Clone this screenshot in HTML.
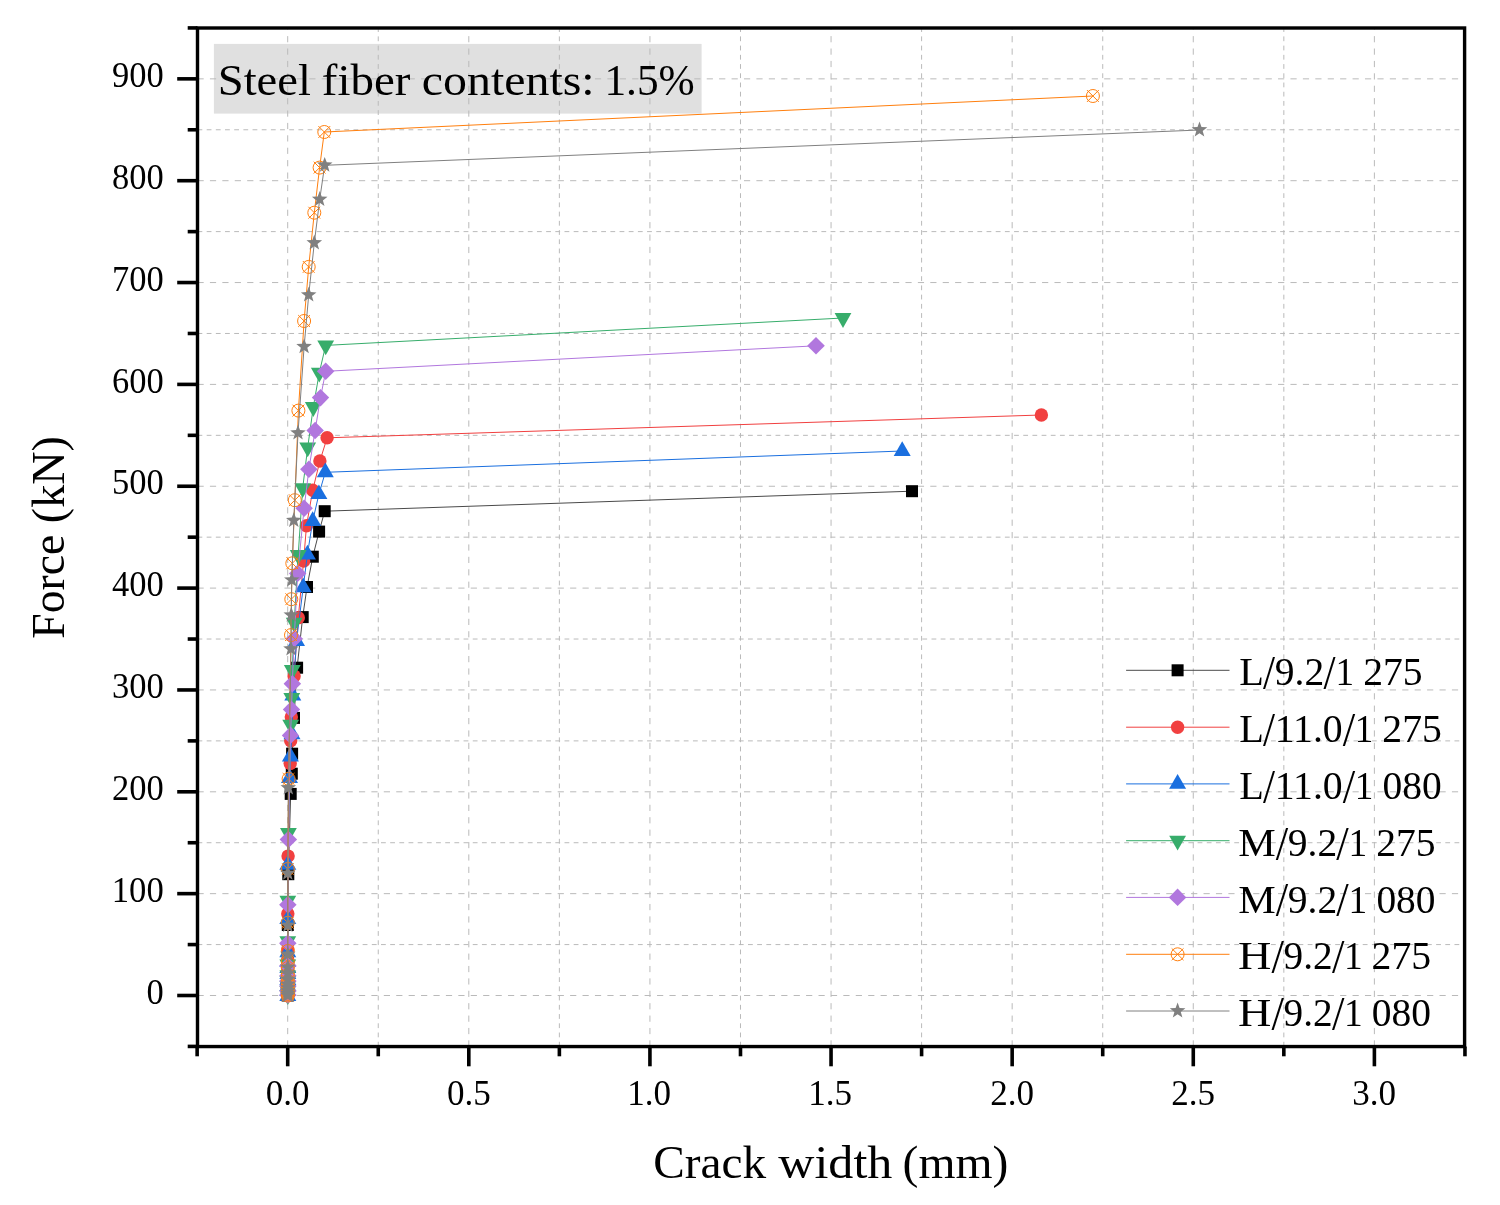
<!DOCTYPE html>
<html lang="en"><head><meta charset="utf-8"><title>Force vs crack width</title>
<style>html,body{margin:0;padding:0;background:#fff}svg{display:block}text{font-family:"Liberation Serif","DejaVu Serif",serif;fill:#000}</style></head><body>
<svg width="1500" height="1205" viewBox="0 0 1500 1205">
<rect width="1500" height="1205" fill="#fff"/>
<rect x="213.9" y="43.9" width="487.7" height="69.7" fill="#e0e0e0"/>
<line x1="197.50" y1="995.50" x2="1463.2" y2="995.50" stroke="#bababa" stroke-width="1" stroke-dasharray="6.2 6.22"/>
<line x1="197.50" y1="944.58" x2="1463.2" y2="944.58" stroke="#bababa" stroke-width="1" stroke-dasharray="4.8 4.375"/>
<line x1="197.50" y1="893.65" x2="1463.2" y2="893.65" stroke="#bababa" stroke-width="1" stroke-dasharray="6.2 6.22"/>
<line x1="197.50" y1="842.73" x2="1463.2" y2="842.73" stroke="#bababa" stroke-width="1" stroke-dasharray="4.8 4.375"/>
<line x1="197.50" y1="791.80" x2="1463.2" y2="791.80" stroke="#bababa" stroke-width="1" stroke-dasharray="6.2 6.22"/>
<line x1="197.50" y1="740.88" x2="1463.2" y2="740.88" stroke="#bababa" stroke-width="1" stroke-dasharray="4.8 4.375"/>
<line x1="197.50" y1="689.95" x2="1463.2" y2="689.95" stroke="#bababa" stroke-width="1" stroke-dasharray="6.2 6.22"/>
<line x1="197.50" y1="639.03" x2="1463.2" y2="639.03" stroke="#bababa" stroke-width="1" stroke-dasharray="4.8 4.375"/>
<line x1="197.50" y1="588.10" x2="1463.2" y2="588.10" stroke="#bababa" stroke-width="1" stroke-dasharray="6.2 6.22"/>
<line x1="197.50" y1="537.17" x2="1463.2" y2="537.17" stroke="#bababa" stroke-width="1" stroke-dasharray="4.8 4.375"/>
<line x1="197.50" y1="486.25" x2="1463.2" y2="486.25" stroke="#bababa" stroke-width="1" stroke-dasharray="6.2 6.22"/>
<line x1="197.50" y1="435.33" x2="1463.2" y2="435.33" stroke="#bababa" stroke-width="1" stroke-dasharray="4.8 4.375"/>
<line x1="197.50" y1="384.40" x2="1463.2" y2="384.40" stroke="#bababa" stroke-width="1" stroke-dasharray="6.2 6.22"/>
<line x1="197.50" y1="333.48" x2="1463.2" y2="333.48" stroke="#bababa" stroke-width="1" stroke-dasharray="4.8 4.375"/>
<line x1="197.50" y1="282.55" x2="1463.2" y2="282.55" stroke="#bababa" stroke-width="1" stroke-dasharray="6.2 6.22"/>
<line x1="197.50" y1="231.62" x2="1463.2" y2="231.62" stroke="#bababa" stroke-width="1" stroke-dasharray="4.8 4.375"/>
<line x1="197.50" y1="180.70" x2="1463.2" y2="180.70" stroke="#bababa" stroke-width="1" stroke-dasharray="6.2 6.22"/>
<line x1="197.50" y1="129.77" x2="1463.2" y2="129.77" stroke="#bababa" stroke-width="1" stroke-dasharray="4.8 4.375"/>
<line x1="197.50" y1="78.85" x2="1463.2" y2="78.85" stroke="#bababa" stroke-width="1" stroke-dasharray="6.2 6.22"/>
<line x1="287.70" y1="1046.55" x2="287.70" y2="29.3" stroke="#bababa" stroke-width="1" stroke-dasharray="6.2 6.198"/>
<line x1="378.26" y1="1046.55" x2="378.26" y2="29.3" stroke="#bababa" stroke-width="1" stroke-dasharray="4.8 4.4234"/>
<line x1="468.81" y1="1046.55" x2="468.81" y2="29.3" stroke="#bababa" stroke-width="1" stroke-dasharray="6.2 6.198"/>
<line x1="559.37" y1="1046.55" x2="559.37" y2="29.3" stroke="#bababa" stroke-width="1" stroke-dasharray="4.8 4.4234"/>
<line x1="649.93" y1="1046.55" x2="649.93" y2="29.3" stroke="#bababa" stroke-width="1" stroke-dasharray="6.2 6.198"/>
<line x1="740.49" y1="1046.55" x2="740.49" y2="29.3" stroke="#bababa" stroke-width="1" stroke-dasharray="4.8 4.4234"/>
<line x1="831.05" y1="1046.55" x2="831.05" y2="29.3" stroke="#bababa" stroke-width="1" stroke-dasharray="6.2 6.198"/>
<line x1="921.60" y1="1046.55" x2="921.60" y2="29.3" stroke="#bababa" stroke-width="1" stroke-dasharray="4.8 4.4234"/>
<line x1="1012.16" y1="1046.55" x2="1012.16" y2="29.3" stroke="#bababa" stroke-width="1" stroke-dasharray="6.2 6.198"/>
<line x1="1102.72" y1="1046.55" x2="1102.72" y2="29.3" stroke="#bababa" stroke-width="1" stroke-dasharray="4.8 4.4234"/>
<line x1="1193.28" y1="1046.55" x2="1193.28" y2="29.3" stroke="#bababa" stroke-width="1" stroke-dasharray="6.2 6.198"/>
<line x1="1283.83" y1="1046.55" x2="1283.83" y2="29.3" stroke="#bababa" stroke-width="1" stroke-dasharray="4.8 4.4234"/>
<line x1="1374.39" y1="1046.55" x2="1374.39" y2="29.3" stroke="#bababa" stroke-width="1" stroke-dasharray="6.2 6.198"/>
<g>
<polyline fill="none" stroke="#4a4a4a" stroke-width="1" stroke-linejoin="round" points="912.0,491.2 324.7,511.2 319.1,531.6 312.8,556.7 307.0,587.0 302.7,617.1 297.1,667.7 294.0,717.9 292.1,753.7 291.8,773.7 290.7,793.9 288.3,874.2 287.8,925.0 287.8,956.0 287.8,964.0 287.8,970.0 287.8,976.0 287.8,982.0 287.8,988.0 287.8,992.0 287.8,995.5"/>
<rect x="906.0" y="485.2" width="12" height="12" fill="#000000"/>
<rect x="318.7" y="505.2" width="12" height="12" fill="#000000"/>
<rect x="313.1" y="525.6" width="12" height="12" fill="#000000"/>
<rect x="306.8" y="550.7" width="12" height="12" fill="#000000"/>
<rect x="301.0" y="581.0" width="12" height="12" fill="#000000"/>
<rect x="296.7" y="611.1" width="12" height="12" fill="#000000"/>
<rect x="291.1" y="661.7" width="12" height="12" fill="#000000"/>
<rect x="288.0" y="711.9" width="12" height="12" fill="#000000"/>
<rect x="286.1" y="747.7" width="12" height="12" fill="#000000"/>
<rect x="285.8" y="767.7" width="12" height="12" fill="#000000"/>
<rect x="284.7" y="787.9" width="12" height="12" fill="#000000"/>
<rect x="282.3" y="868.2" width="12" height="12" fill="#000000"/>
<rect x="281.8" y="919.0" width="12" height="12" fill="#000000"/>
<rect x="281.8" y="950.0" width="12" height="12" fill="#000000"/>
<rect x="281.8" y="958.0" width="12" height="12" fill="#000000"/>
<rect x="281.8" y="964.0" width="12" height="12" fill="#000000"/>
<rect x="281.8" y="970.0" width="12" height="12" fill="#000000"/>
<rect x="281.8" y="976.0" width="12" height="12" fill="#000000"/>
<rect x="281.8" y="982.0" width="12" height="12" fill="#000000"/>
<rect x="281.8" y="986.0" width="12" height="12" fill="#000000"/>
<rect x="281.8" y="989.5" width="12" height="12" fill="#000000"/>
</g>
<g>
<polyline fill="none" stroke="#f14040" stroke-width="1" stroke-linejoin="round" points="1041.4,415.0 327.1,437.8 319.9,461.0 312.7,490.2 306.5,525.7 303.6,561.0 298.3,617.7 294.1,676.0 291.3,717.1 290.7,740.7 290.2,763.6 288.1,856.1 287.8,913.7 287.8,949.6 287.8,960.0 287.8,967.0 287.8,973.0 287.8,979.0 287.8,985.0 287.8,990.0 287.8,995.5"/>
<circle cx="1041.4" cy="415.0" r="6.7" fill="#f14040"/>
<circle cx="327.1" cy="437.8" r="6.7" fill="#f14040"/>
<circle cx="319.9" cy="461.0" r="6.7" fill="#f14040"/>
<circle cx="312.7" cy="490.2" r="6.7" fill="#f14040"/>
<circle cx="306.5" cy="525.7" r="6.7" fill="#f14040"/>
<circle cx="303.6" cy="561.0" r="6.7" fill="#f14040"/>
<circle cx="298.3" cy="617.7" r="6.7" fill="#f14040"/>
<circle cx="294.1" cy="676.0" r="6.7" fill="#f14040"/>
<circle cx="291.3" cy="717.1" r="6.7" fill="#f14040"/>
<circle cx="290.7" cy="740.7" r="6.7" fill="#f14040"/>
<circle cx="290.2" cy="763.6" r="6.7" fill="#f14040"/>
<circle cx="288.1" cy="856.1" r="6.7" fill="#f14040"/>
<circle cx="287.8" cy="913.7" r="6.7" fill="#f14040"/>
<circle cx="287.8" cy="949.6" r="6.7" fill="#f14040"/>
<circle cx="287.8" cy="960.0" r="6.7" fill="#f14040"/>
<circle cx="287.8" cy="967.0" r="6.7" fill="#f14040"/>
<circle cx="287.8" cy="973.0" r="6.7" fill="#f14040"/>
<circle cx="287.8" cy="979.0" r="6.7" fill="#f14040"/>
<circle cx="287.8" cy="985.0" r="6.7" fill="#f14040"/>
<circle cx="287.8" cy="990.0" r="6.7" fill="#f14040"/>
<circle cx="287.8" cy="995.5" r="6.7" fill="#f14040"/>
</g>
<g>
<polyline fill="none" stroke="#1a6fdf" stroke-width="1" stroke-linejoin="round" points="902.2,451.0 325.3,472.3 318.9,494.2 312.7,521.1 307.4,554.6 303.2,587.3 296.5,641.0 292.8,695.7 292.0,734.3 290.4,756.5 289.5,778.0 287.8,864.8 287.8,919.2 287.8,952.3 287.8,962.0 287.8,968.0 287.8,974.0 287.8,980.0 287.8,986.0 287.8,991.0 287.8,996.0"/>
<path d="M902.2 441.2 L910.7 455.9 L893.7 455.9Z" fill="#1a6fdf"/>
<path d="M325.3 462.5 L333.8 477.2 L316.8 477.2Z" fill="#1a6fdf"/>
<path d="M318.9 484.4 L327.4 499.1 L310.4 499.1Z" fill="#1a6fdf"/>
<path d="M312.7 511.3 L321.2 526.0 L304.2 526.0Z" fill="#1a6fdf"/>
<path d="M307.4 544.8 L315.9 559.5 L298.9 559.5Z" fill="#1a6fdf"/>
<path d="M303.2 577.5 L311.7 592.2 L294.7 592.2Z" fill="#1a6fdf"/>
<path d="M296.5 631.2 L305.0 645.9 L288.0 645.9Z" fill="#1a6fdf"/>
<path d="M292.8 685.9 L301.3 700.6 L284.3 700.6Z" fill="#1a6fdf"/>
<path d="M292.0 724.5 L300.5 739.2 L283.5 739.2Z" fill="#1a6fdf"/>
<path d="M290.4 746.7 L298.9 761.4 L281.9 761.4Z" fill="#1a6fdf"/>
<path d="M289.5 768.2 L298.0 782.9 L281.0 782.9Z" fill="#1a6fdf"/>
<path d="M287.8 855.0 L296.3 869.7 L279.3 869.7Z" fill="#1a6fdf"/>
<path d="M287.8 909.4 L296.3 924.1 L279.3 924.1Z" fill="#1a6fdf"/>
<path d="M287.8 942.5 L296.3 957.2 L279.3 957.2Z" fill="#1a6fdf"/>
<path d="M287.8 952.2 L296.3 966.9 L279.3 966.9Z" fill="#1a6fdf"/>
<path d="M287.8 958.2 L296.3 972.9 L279.3 972.9Z" fill="#1a6fdf"/>
<path d="M287.8 964.2 L296.3 978.9 L279.3 978.9Z" fill="#1a6fdf"/>
<path d="M287.8 970.2 L296.3 984.9 L279.3 984.9Z" fill="#1a6fdf"/>
<path d="M287.8 976.2 L296.3 990.9 L279.3 990.9Z" fill="#1a6fdf"/>
<path d="M287.8 981.2 L296.3 995.9 L279.3 995.9Z" fill="#1a6fdf"/>
<path d="M287.8 986.2 L296.3 1000.9 L279.3 1000.9Z" fill="#1a6fdf"/>
</g>
<g>
<polyline fill="none" stroke="#37ad6b" stroke-width="1" stroke-linejoin="round" points="843.0,318.0 325.7,345.4 319.3,372.7 313.3,407.0 307.7,447.4 302.7,488.2 298.2,555.0 294.2,622.8 292.3,670.1 291.8,698.0 290.7,724.7 288.4,833.1 287.8,900.7 287.8,941.2 287.8,964.5 287.8,975.5 287.8,981.0 287.8,986.0 287.8,991.0 287.8,995.2"/>
<path d="M843.0 327.9 L851.4 313.0 L834.6 313.0Z" fill="#37ad6b"/>
<path d="M325.7 355.3 L334.1 340.4 L317.3 340.4Z" fill="#37ad6b"/>
<path d="M319.3 382.6 L327.7 367.7 L310.9 367.7Z" fill="#37ad6b"/>
<path d="M313.3 416.9 L321.7 402.0 L304.9 402.0Z" fill="#37ad6b"/>
<path d="M307.7 457.3 L316.1 442.4 L299.3 442.4Z" fill="#37ad6b"/>
<path d="M302.7 498.1 L311.1 483.2 L294.3 483.2Z" fill="#37ad6b"/>
<path d="M298.2 564.9 L306.6 550.0 L289.8 550.0Z" fill="#37ad6b"/>
<path d="M294.2 632.7 L302.6 617.8 L285.8 617.8Z" fill="#37ad6b"/>
<path d="M292.3 680.0 L300.7 665.1 L283.9 665.1Z" fill="#37ad6b"/>
<path d="M291.8 707.9 L300.2 693.0 L283.4 693.0Z" fill="#37ad6b"/>
<path d="M290.7 734.6 L299.1 719.7 L282.3 719.7Z" fill="#37ad6b"/>
<path d="M288.4 843.0 L296.8 828.1 L280.0 828.1Z" fill="#37ad6b"/>
<path d="M287.8 910.6 L296.2 895.7 L279.4 895.7Z" fill="#37ad6b"/>
<path d="M287.8 951.1 L296.2 936.2 L279.4 936.2Z" fill="#37ad6b"/>
<path d="M287.8 974.4 L296.2 959.5 L279.4 959.5Z" fill="#37ad6b"/>
<path d="M287.8 985.4 L296.2 970.5 L279.4 970.5Z" fill="#37ad6b"/>
<path d="M287.8 990.9 L296.2 976.0 L279.4 976.0Z" fill="#37ad6b"/>
<path d="M287.8 995.9 L296.2 981.0 L279.4 981.0Z" fill="#37ad6b"/>
<path d="M287.8 1000.9 L296.2 986.0 L279.4 986.0Z" fill="#37ad6b"/>
<path d="M287.8 1005.1 L296.2 990.2 L279.4 990.2Z" fill="#37ad6b"/>
</g>
<g>
<polyline fill="none" stroke="#b177de" stroke-width="1" stroke-linejoin="round" points="816.0,345.8 325.7,371.3 320.5,397.6 315.1,430.5 308.9,469.3 304.1,508.2 297.7,573.4 294.2,638.7 292.3,683.7 291.5,709.5 290.5,735.4 288.3,839.5 287.8,904.7 287.8,943.2 287.8,965.8 287.8,975.8 287.8,981.0 287.8,986.0 287.8,991.0 287.8,995.0"/>
<path d="M816.0 337.1 L824.8 345.8 L816.0 354.6 L807.2 345.8Z" fill="#b177de"/>
<path d="M325.7 362.6 L334.4 371.3 L325.7 380.1 L316.9 371.3Z" fill="#b177de"/>
<path d="M320.5 388.9 L329.2 397.6 L320.5 406.4 L311.8 397.6Z" fill="#b177de"/>
<path d="M315.1 421.8 L323.9 430.5 L315.1 439.2 L306.4 430.5Z" fill="#b177de"/>
<path d="M308.9 460.6 L317.6 469.3 L308.9 478.1 L300.1 469.3Z" fill="#b177de"/>
<path d="M304.1 499.4 L312.9 508.2 L304.1 517.0 L295.4 508.2Z" fill="#b177de"/>
<path d="M297.7 564.6 L306.4 573.4 L297.7 582.1 L288.9 573.4Z" fill="#b177de"/>
<path d="M294.2 630.0 L302.9 638.7 L294.2 647.5 L285.4 638.7Z" fill="#b177de"/>
<path d="M292.3 675.0 L301.1 683.7 L292.3 692.5 L283.6 683.7Z" fill="#b177de"/>
<path d="M291.5 700.8 L300.2 709.5 L291.5 718.2 L282.8 709.5Z" fill="#b177de"/>
<path d="M290.5 726.6 L299.2 735.4 L290.5 744.1 L281.8 735.4Z" fill="#b177de"/>
<path d="M288.3 830.8 L297.1 839.5 L288.3 848.2 L279.6 839.5Z" fill="#b177de"/>
<path d="M287.8 896.0 L296.6 904.7 L287.8 913.5 L279.1 904.7Z" fill="#b177de"/>
<path d="M287.8 934.5 L296.6 943.2 L287.8 952.0 L279.1 943.2Z" fill="#b177de"/>
<path d="M287.8 957.0 L296.6 965.8 L287.8 974.5 L279.1 965.8Z" fill="#b177de"/>
<path d="M287.8 967.0 L296.6 975.8 L287.8 984.5 L279.1 975.8Z" fill="#b177de"/>
<path d="M287.8 972.2 L296.6 981.0 L287.8 989.8 L279.1 981.0Z" fill="#b177de"/>
<path d="M287.8 977.2 L296.6 986.0 L287.8 994.8 L279.1 986.0Z" fill="#b177de"/>
<path d="M287.8 982.2 L296.6 991.0 L287.8 999.8 L279.1 991.0Z" fill="#b177de"/>
<path d="M287.8 986.2 L296.6 995.0 L287.8 1003.8 L279.1 995.0Z" fill="#b177de"/>
</g>
<g>
<polyline fill="none" stroke="#ff7f0e" stroke-width="1" stroke-linejoin="round" points="1092.9,96.0 324.3,132.0 319.6,167.6 314.3,212.7 308.7,266.9 304.1,321.0 298.4,410.6 294.8,500.2 292.3,563.3 291.3,599.2 291.0,635.1 288.6,778.9 287.8,869.0 287.8,922.8 287.8,951.0 287.8,962.0 287.8,968.0 287.8,975.0 287.8,981.0 287.8,985.0 287.8,988.0 287.8,990.5 287.8,992.5 287.8,994.0 287.8,995.5"/>
<g stroke="#ff7f0e" stroke-width="1" fill="none"><circle cx="1092.9" cy="96.0" r="6.5"/><path d="M1087.0 90.1 L1098.8 101.9 M1087.0 101.9 L1098.8 90.1"/></g>
<g stroke="#ff7f0e" stroke-width="1" fill="none"><circle cx="324.3" cy="132.0" r="6.5"/><path d="M318.4 126.1 L330.2 137.9 M318.4 137.9 L330.2 126.1"/></g>
<g stroke="#ff7f0e" stroke-width="1" fill="none"><circle cx="319.6" cy="167.6" r="6.5"/><path d="M313.7 161.7 L325.5 173.5 M313.7 173.5 L325.5 161.7"/></g>
<g stroke="#ff7f0e" stroke-width="1" fill="none"><circle cx="314.3" cy="212.7" r="6.5"/><path d="M308.4 206.8 L320.2 218.6 M308.4 218.6 L320.2 206.8"/></g>
<g stroke="#ff7f0e" stroke-width="1" fill="none"><circle cx="308.7" cy="266.9" r="6.5"/><path d="M302.8 261.0 L314.6 272.8 M302.8 272.8 L314.6 261.0"/></g>
<g stroke="#ff7f0e" stroke-width="1" fill="none"><circle cx="304.1" cy="321.0" r="6.5"/><path d="M298.2 315.1 L310.0 326.9 M298.2 326.9 L310.0 315.1"/></g>
<g stroke="#ff7f0e" stroke-width="1" fill="none"><circle cx="298.4" cy="410.6" r="6.5"/><path d="M292.5 404.7 L304.3 416.5 M292.5 416.5 L304.3 404.7"/></g>
<g stroke="#ff7f0e" stroke-width="1" fill="none"><circle cx="294.8" cy="500.2" r="6.5"/><path d="M288.9 494.3 L300.7 506.1 M288.9 506.1 L300.7 494.3"/></g>
<g stroke="#ff7f0e" stroke-width="1" fill="none"><circle cx="292.3" cy="563.3" r="6.5"/><path d="M286.4 557.4 L298.2 569.2 M286.4 569.2 L298.2 557.4"/></g>
<g stroke="#ff7f0e" stroke-width="1" fill="none"><circle cx="291.3" cy="599.2" r="6.5"/><path d="M285.4 593.3 L297.2 605.1 M285.4 605.1 L297.2 593.3"/></g>
<g stroke="#ff7f0e" stroke-width="1" fill="none"><circle cx="291.0" cy="635.1" r="6.5"/><path d="M285.1 629.2 L296.9 641.0 M285.1 641.0 L296.9 629.2"/></g>
<g stroke="#ff7f0e" stroke-width="1" fill="none"><circle cx="288.6" cy="778.9" r="6.5"/><path d="M282.7 773.0 L294.5 784.8 M282.7 784.8 L294.5 773.0"/></g>
<g stroke="#ff7f0e" stroke-width="1" fill="none"><circle cx="287.8" cy="869.0" r="6.5"/><path d="M281.9 863.1 L293.7 874.9 M281.9 874.9 L293.7 863.1"/></g>
<g stroke="#ff7f0e" stroke-width="1" fill="none"><circle cx="287.8" cy="922.8" r="6.5"/><path d="M281.9 916.9 L293.7 928.7 M281.9 928.7 L293.7 916.9"/></g>
<g stroke="#ff7f0e" stroke-width="1" fill="none"><circle cx="287.8" cy="951.0" r="6.5"/><path d="M281.9 945.1 L293.7 956.9 M281.9 956.9 L293.7 945.1"/></g>
<g stroke="#ff7f0e" stroke-width="1" fill="none"><circle cx="287.8" cy="962.0" r="6.5"/><path d="M281.9 956.1 L293.7 967.9 M281.9 967.9 L293.7 956.1"/></g>
<g stroke="#ff7f0e" stroke-width="1" fill="none"><circle cx="287.8" cy="968.0" r="6.5"/><path d="M281.9 962.1 L293.7 973.9 M281.9 973.9 L293.7 962.1"/></g>
<g stroke="#ff7f0e" stroke-width="1" fill="none"><circle cx="287.8" cy="975.0" r="6.5"/><path d="M281.9 969.1 L293.7 980.9 M281.9 980.9 L293.7 969.1"/></g>
<g stroke="#ff7f0e" stroke-width="1" fill="none"><circle cx="287.8" cy="981.0" r="6.5"/><path d="M281.9 975.1 L293.7 986.9 M281.9 986.9 L293.7 975.1"/></g>
<g stroke="#ff7f0e" stroke-width="1" fill="none"><circle cx="287.8" cy="985.0" r="6.5"/><path d="M281.9 979.1 L293.7 990.9 M281.9 990.9 L293.7 979.1"/></g>
<g stroke="#ff7f0e" stroke-width="1" fill="none"><circle cx="287.8" cy="988.0" r="6.5"/><path d="M281.9 982.1 L293.7 993.9 M281.9 993.9 L293.7 982.1"/></g>
<g stroke="#ff7f0e" stroke-width="1" fill="none"><circle cx="287.8" cy="990.5" r="6.5"/><path d="M281.9 984.6 L293.7 996.4 M281.9 996.4 L293.7 984.6"/></g>
<g stroke="#ff7f0e" stroke-width="1" fill="none"><circle cx="287.8" cy="992.5" r="6.5"/><path d="M281.9 986.6 L293.7 998.4 M281.9 998.4 L293.7 986.6"/></g>
<g stroke="#ff7f0e" stroke-width="1" fill="none"><circle cx="287.8" cy="994.0" r="6.5"/><path d="M281.9 988.1 L293.7 999.9 M281.9 999.9 L293.7 988.1"/></g>
<g stroke="#ff7f0e" stroke-width="1" fill="none"><circle cx="287.8" cy="995.5" r="6.5"/><path d="M281.9 989.6 L293.7 1001.4 M281.9 1001.4 L293.7 989.6"/></g>
</g>
<g>
<polyline fill="none" stroke="#808080" stroke-width="1" stroke-linejoin="round" points="1199.5,130.0 324.7,165.3 319.7,199.5 314.3,243.0 308.7,295.1 304.1,346.8 298.0,433.1 293.8,520.6 291.8,580.2 291.3,615.3 291.0,649.1 288.3,788.0 287.8,873.4 287.8,925.6 287.8,954.4 287.8,967.5 287.8,973.5 287.8,979.5 287.8,984.5 287.8,988.0 287.8,991.0 287.8,993.5 287.8,995.5"/>
<path d="M1199.5 121.6 L1201.5 127.0 L1207.3 127.3 L1202.7 130.9 L1204.3 136.4 L1199.5 133.2 L1194.7 136.4 L1196.3 130.9 L1191.7 127.3 L1197.5 127.0Z" fill="#808080"/>
<path d="M324.7 156.9 L326.7 162.3 L332.5 162.6 L327.9 166.2 L329.5 171.7 L324.7 168.5 L319.9 171.7 L321.5 166.2 L316.9 162.6 L322.7 162.3Z" fill="#808080"/>
<path d="M319.7 191.1 L321.7 196.5 L327.5 196.8 L322.9 200.4 L324.5 205.9 L319.7 202.7 L314.9 205.9 L316.5 200.4 L311.9 196.8 L317.7 196.5Z" fill="#808080"/>
<path d="M314.3 234.6 L316.3 240.0 L322.1 240.3 L317.5 243.9 L319.1 249.4 L314.3 246.2 L309.5 249.4 L311.1 243.9 L306.5 240.3 L312.3 240.0Z" fill="#808080"/>
<path d="M308.7 286.7 L310.7 292.1 L316.5 292.4 L311.9 296.0 L313.5 301.5 L308.7 298.3 L303.9 301.5 L305.5 296.0 L300.9 292.4 L306.7 292.1Z" fill="#808080"/>
<path d="M304.1 338.4 L306.1 343.8 L311.9 344.1 L307.3 347.7 L308.9 353.2 L304.1 350.0 L299.3 353.2 L300.9 347.7 L296.3 344.1 L302.1 343.8Z" fill="#808080"/>
<path d="M298.0 424.7 L300.0 430.1 L305.8 430.4 L301.2 434.0 L302.8 439.5 L298.0 436.3 L293.2 439.5 L294.8 434.0 L290.2 430.4 L296.0 430.1Z" fill="#808080"/>
<path d="M293.8 512.2 L295.8 517.6 L301.6 517.9 L297.0 521.5 L298.6 527.0 L293.8 523.8 L289.0 527.0 L290.6 521.5 L286.0 517.9 L291.8 517.6Z" fill="#808080"/>
<path d="M291.8 571.8 L293.8 577.2 L299.6 577.5 L295.0 581.1 L296.6 586.6 L291.8 583.4 L287.0 586.6 L288.6 581.1 L284.0 577.5 L289.8 577.2Z" fill="#808080"/>
<path d="M291.3 606.9 L293.3 612.3 L299.1 612.6 L294.5 616.2 L296.1 621.7 L291.3 618.5 L286.5 621.7 L288.1 616.2 L283.5 612.6 L289.3 612.3Z" fill="#808080"/>
<path d="M291.0 640.7 L293.0 646.1 L298.8 646.4 L294.2 650.0 L295.8 655.5 L291.0 652.3 L286.2 655.5 L287.8 650.0 L283.2 646.4 L289.0 646.1Z" fill="#808080"/>
<path d="M288.3 779.6 L290.3 785.0 L296.1 785.3 L291.5 788.9 L293.1 794.4 L288.3 791.2 L283.5 794.4 L285.1 788.9 L280.5 785.3 L286.3 785.0Z" fill="#808080"/>
<path d="M287.8 865.0 L289.8 870.4 L295.6 870.7 L291.0 874.3 L292.6 879.8 L287.8 876.6 L283.0 879.8 L284.6 874.3 L280.0 870.7 L285.8 870.4Z" fill="#808080"/>
<path d="M287.8 917.2 L289.8 922.6 L295.6 922.9 L291.0 926.5 L292.6 932.0 L287.8 928.8 L283.0 932.0 L284.6 926.5 L280.0 922.9 L285.8 922.6Z" fill="#808080"/>
<path d="M287.8 946.0 L289.8 951.4 L295.6 951.7 L291.0 955.3 L292.6 960.8 L287.8 957.6 L283.0 960.8 L284.6 955.3 L280.0 951.7 L285.8 951.4Z" fill="#808080"/>
<path d="M287.8 959.1 L289.8 964.5 L295.6 964.8 L291.0 968.4 L292.6 973.9 L287.8 970.7 L283.0 973.9 L284.6 968.4 L280.0 964.8 L285.8 964.5Z" fill="#808080"/>
<path d="M287.8 965.1 L289.8 970.5 L295.6 970.8 L291.0 974.4 L292.6 979.9 L287.8 976.7 L283.0 979.9 L284.6 974.4 L280.0 970.8 L285.8 970.5Z" fill="#808080"/>
<path d="M287.8 971.1 L289.8 976.5 L295.6 976.8 L291.0 980.4 L292.6 985.9 L287.8 982.7 L283.0 985.9 L284.6 980.4 L280.0 976.8 L285.8 976.5Z" fill="#808080"/>
<path d="M287.8 976.1 L289.8 981.5 L295.6 981.8 L291.0 985.4 L292.6 990.9 L287.8 987.7 L283.0 990.9 L284.6 985.4 L280.0 981.8 L285.8 981.5Z" fill="#808080"/>
<path d="M287.8 979.6 L289.8 985.0 L295.6 985.3 L291.0 988.9 L292.6 994.4 L287.8 991.2 L283.0 994.4 L284.6 988.9 L280.0 985.3 L285.8 985.0Z" fill="#808080"/>
<path d="M287.8 982.6 L289.8 988.0 L295.6 988.3 L291.0 991.9 L292.6 997.4 L287.8 994.2 L283.0 997.4 L284.6 991.9 L280.0 988.3 L285.8 988.0Z" fill="#808080"/>
<path d="M287.8 985.1 L289.8 990.5 L295.6 990.8 L291.0 994.4 L292.6 999.9 L287.8 996.7 L283.0 999.9 L284.6 994.4 L280.0 990.8 L285.8 990.5Z" fill="#808080"/>
<path d="M287.8 987.1 L289.8 992.5 L295.6 992.8 L291.0 996.4 L292.6 1001.9 L287.8 998.7 L283.0 1001.9 L284.6 996.4 L280.0 992.8 L285.8 992.5Z" fill="#808080"/>
</g>
<line x1="1126.1" y1="670.3" x2="1229.5" y2="670.3" stroke="#4a4a4a" stroke-width="1"/>
<rect x="1171.6" y="664.3" width="12" height="12" fill="#000000"/>
<text y="685.20" font-size="39.60"><tspan x="1239.19" textLength="24.67" lengthAdjust="spacingAndGlyphs">L</tspan><tspan x="1263.00" textLength="12.03" lengthAdjust="spacingAndGlyphs" dy="3.81" font-size="48.87">/</tspan><tspan x="1274.82" textLength="49.36" lengthAdjust="spacingAndGlyphs" dy="-3.81">9.2</tspan><tspan x="1323.60" textLength="12.03" lengthAdjust="spacingAndGlyphs" dy="3.81" font-size="48.87">/</tspan><tspan x="1335.56" textLength="18.57" lengthAdjust="spacingAndGlyphs" dy="-3.81">1</tspan> <tspan x="1363.22" textLength="59.36" lengthAdjust="spacingAndGlyphs">275</tspan></text>
<line x1="1126.1" y1="727.2" x2="1229.5" y2="727.2" stroke="#f14040" stroke-width="1"/>
<circle cx="1177.6" cy="727.2" r="6.7" fill="#f14040"/>
<text y="741.90" font-size="39.60"><tspan x="1239.19" textLength="24.67" lengthAdjust="spacingAndGlyphs">L</tspan><tspan x="1263.00" textLength="12.03" lengthAdjust="spacingAndGlyphs" dy="3.81" font-size="48.87">/</tspan><tspan x="1274.73" textLength="67.98" lengthAdjust="spacingAndGlyphs" dy="-3.81">11.0</tspan><tspan x="1342.70" textLength="12.43" lengthAdjust="spacingAndGlyphs" dy="3.81" font-size="48.87">/</tspan><tspan x="1354.76" textLength="18.57" lengthAdjust="spacingAndGlyphs" dy="-3.81">1</tspan> <tspan x="1382.32" textLength="59.47" lengthAdjust="spacingAndGlyphs">275</tspan></text>
<line x1="1126.1" y1="783.9" x2="1229.5" y2="783.9" stroke="#1a6fdf" stroke-width="1"/>
<path d="M1177.6 774.1 L1186.1 788.8 L1169.1 788.8Z" fill="#1a6fdf"/>
<text y="799.10" font-size="39.60"><tspan x="1239.19" textLength="24.67" lengthAdjust="spacingAndGlyphs">L</tspan><tspan x="1263.00" textLength="12.03" lengthAdjust="spacingAndGlyphs" dy="3.81" font-size="48.87">/</tspan><tspan x="1274.73" textLength="67.98" lengthAdjust="spacingAndGlyphs" dy="-3.81">11.0</tspan><tspan x="1342.70" textLength="12.43" lengthAdjust="spacingAndGlyphs" dy="3.81" font-size="48.87">/</tspan><tspan x="1354.76" textLength="18.57" lengthAdjust="spacingAndGlyphs" dy="-3.81">1</tspan> <tspan x="1382.52" textLength="59.26" lengthAdjust="spacingAndGlyphs">080</tspan></text>
<line x1="1126.1" y1="840.7" x2="1229.5" y2="840.7" stroke="#37ad6b" stroke-width="1"/>
<path d="M1177.6 850.6 L1186.0 835.7 L1169.2 835.7Z" fill="#37ad6b"/>
<text y="855.70" font-size="39.60"><tspan x="1238.23" textLength="37.50" lengthAdjust="spacingAndGlyphs">M</tspan><tspan x="1275.70" textLength="12.43" lengthAdjust="spacingAndGlyphs" dy="3.81" font-size="48.87">/</tspan><tspan x="1287.82" textLength="49.36" lengthAdjust="spacingAndGlyphs" dy="-3.81">9.2</tspan><tspan x="1336.30" textLength="12.43" lengthAdjust="spacingAndGlyphs" dy="3.81" font-size="48.87">/</tspan><tspan x="1348.53" textLength="18.71" lengthAdjust="spacingAndGlyphs" dy="-3.81">1</tspan> <tspan x="1376.22" textLength="59.36" lengthAdjust="spacingAndGlyphs">275</tspan></text>
<line x1="1126.1" y1="897.4" x2="1229.5" y2="897.4" stroke="#b177de" stroke-width="1"/>
<path d="M1177.6 888.6 L1186.3 897.4 L1177.6 906.1 L1168.8 897.4Z" fill="#b177de"/>
<text y="912.50" font-size="39.60"><tspan x="1238.23" textLength="37.50" lengthAdjust="spacingAndGlyphs">M</tspan><tspan x="1275.70" textLength="12.43" lengthAdjust="spacingAndGlyphs" dy="3.81" font-size="48.87">/</tspan><tspan x="1287.82" textLength="49.36" lengthAdjust="spacingAndGlyphs" dy="-3.81">9.2</tspan><tspan x="1336.30" textLength="12.43" lengthAdjust="spacingAndGlyphs" dy="3.81" font-size="48.87">/</tspan><tspan x="1348.53" textLength="18.71" lengthAdjust="spacingAndGlyphs" dy="-3.81">1</tspan> <tspan x="1376.42" textLength="59.15" lengthAdjust="spacingAndGlyphs">080</tspan></text>
<line x1="1126.1" y1="954.3" x2="1229.5" y2="954.3" stroke="#ff7f0e" stroke-width="1"/>
<g stroke="#ff7f0e" stroke-width="1" fill="none"><circle cx="1177.6" cy="954.3" r="6.5"/><path d="M1171.7 948.4 L1183.5 960.2 M1171.7 960.2 L1183.5 948.4"/></g>
<text y="969.40" font-size="39.60"><tspan x="1238.12" textLength="33.34" lengthAdjust="spacingAndGlyphs">H</tspan><tspan x="1271.40" textLength="12.43" lengthAdjust="spacingAndGlyphs" dy="3.81" font-size="48.87">/</tspan><tspan x="1283.62" textLength="49.03" lengthAdjust="spacingAndGlyphs" dy="-3.81">9.2</tspan><tspan x="1332.00" textLength="12.43" lengthAdjust="spacingAndGlyphs" dy="3.81" font-size="48.87">/</tspan><tspan x="1343.93" textLength="18.71" lengthAdjust="spacingAndGlyphs" dy="-3.81">1</tspan> <tspan x="1371.62" textLength="59.47" lengthAdjust="spacingAndGlyphs">275</tspan></text>
<line x1="1126.1" y1="1011.0" x2="1229.5" y2="1011.0" stroke="#808080" stroke-width="1"/>
<path d="M1177.6 1002.6 L1179.6 1008.0 L1185.4 1008.3 L1180.8 1011.9 L1182.4 1017.4 L1177.6 1014.2 L1172.8 1017.4 L1174.4 1011.9 L1169.8 1008.3 L1175.6 1008.0Z" fill="#808080"/>
<text y="1026.20" font-size="39.60"><tspan x="1238.12" textLength="33.34" lengthAdjust="spacingAndGlyphs">H</tspan><tspan x="1271.40" textLength="12.43" lengthAdjust="spacingAndGlyphs" dy="3.81" font-size="48.87">/</tspan><tspan x="1283.62" textLength="49.03" lengthAdjust="spacingAndGlyphs" dy="-3.81">9.2</tspan><tspan x="1332.00" textLength="12.43" lengthAdjust="spacingAndGlyphs" dy="3.81" font-size="48.87">/</tspan><tspan x="1343.93" textLength="18.71" lengthAdjust="spacingAndGlyphs" dy="-3.81">1</tspan> <tspan x="1371.82" textLength="59.26" lengthAdjust="spacingAndGlyphs">080</tspan></text>
<g stroke="#000" stroke-width="3.4" fill="none" stroke-linecap="butt">
<rect x="197.50" y="28.00" width="1267.10" height="1018.55"/>
</g><g stroke="#000" stroke-width="3.6" fill="none">
<line x1="187.7" y1="1046.42" x2="197.50" y2="1046.42"/>
<line x1="177.2" y1="995.50" x2="197.50" y2="995.50"/>
<line x1="187.7" y1="944.58" x2="197.50" y2="944.58"/>
<line x1="177.2" y1="893.65" x2="197.50" y2="893.65"/>
<line x1="187.7" y1="842.73" x2="197.50" y2="842.73"/>
<line x1="177.2" y1="791.80" x2="197.50" y2="791.80"/>
<line x1="187.7" y1="740.88" x2="197.50" y2="740.88"/>
<line x1="177.2" y1="689.95" x2="197.50" y2="689.95"/>
<line x1="187.7" y1="639.03" x2="197.50" y2="639.03"/>
<line x1="177.2" y1="588.10" x2="197.50" y2="588.10"/>
<line x1="187.7" y1="537.17" x2="197.50" y2="537.17"/>
<line x1="177.2" y1="486.25" x2="197.50" y2="486.25"/>
<line x1="187.7" y1="435.33" x2="197.50" y2="435.33"/>
<line x1="177.2" y1="384.40" x2="197.50" y2="384.40"/>
<line x1="187.7" y1="333.48" x2="197.50" y2="333.48"/>
<line x1="177.2" y1="282.55" x2="197.50" y2="282.55"/>
<line x1="187.7" y1="231.62" x2="197.50" y2="231.62"/>
<line x1="177.2" y1="180.70" x2="197.50" y2="180.70"/>
<line x1="187.7" y1="129.77" x2="197.50" y2="129.77"/>
<line x1="177.2" y1="78.85" x2="197.50" y2="78.85"/>
<line x1="187.7" y1="27.93" x2="197.50" y2="27.93"/>
<line x1="197.14" y1="1046.55" x2="197.14" y2="1056.3"/>
<line x1="287.70" y1="1046.55" x2="287.70" y2="1066.3"/>
<line x1="378.26" y1="1046.55" x2="378.26" y2="1056.3"/>
<line x1="468.81" y1="1046.55" x2="468.81" y2="1066.3"/>
<line x1="559.37" y1="1046.55" x2="559.37" y2="1056.3"/>
<line x1="649.93" y1="1046.55" x2="649.93" y2="1066.3"/>
<line x1="740.49" y1="1046.55" x2="740.49" y2="1056.3"/>
<line x1="831.05" y1="1046.55" x2="831.05" y2="1066.3"/>
<line x1="921.60" y1="1046.55" x2="921.60" y2="1056.3"/>
<line x1="1012.16" y1="1046.55" x2="1012.16" y2="1066.3"/>
<line x1="1102.72" y1="1046.55" x2="1102.72" y2="1056.3"/>
<line x1="1193.28" y1="1046.55" x2="1193.28" y2="1066.3"/>
<line x1="1283.83" y1="1046.55" x2="1283.83" y2="1056.3"/>
<line x1="1374.39" y1="1046.55" x2="1374.39" y2="1066.3"/>
<line x1="1464.95" y1="1046.55" x2="1464.95" y2="1056.3"/>
</g>
<text transform="translate(146.55,1003.70) scale(0.9680,1)" font-size="35.6">0</text>
<text transform="translate(111.78,901.85) scale(0.9739,1)" font-size="35.6">100</text>
<text transform="translate(112.09,800.00) scale(0.9680,1)" font-size="35.6">200</text>
<text transform="translate(112.09,698.15) scale(0.9680,1)" font-size="35.6">300</text>
<text transform="translate(112.09,596.30) scale(0.9680,1)" font-size="35.6">400</text>
<text transform="translate(112.09,494.45) scale(0.9680,1)" font-size="35.6">500</text>
<text transform="translate(112.09,392.60) scale(0.9680,1)" font-size="35.6">600</text>
<text transform="translate(112.09,290.75) scale(0.9680,1)" font-size="35.6">700</text>
<text transform="translate(112.09,188.90) scale(0.9680,1)" font-size="35.6">800</text>
<text transform="translate(112.09,87.05) scale(0.9680,1)" font-size="35.6">900</text>
<text transform="translate(265.78,1104.6) scale(0.9850,1)" font-size="35.6">0.0</text>
<text transform="translate(446.90,1104.6) scale(0.9850,1)" font-size="35.6">0.5</text>
<text transform="translate(627.14,1104.6) scale(0.9850,1)" font-size="35.6">1.0</text>
<text transform="translate(808.25,1104.6) scale(0.9850,1)" font-size="35.6">1.5</text>
<text transform="translate(990.16,1104.6) scale(0.9850,1)" font-size="35.6">2.0</text>
<text transform="translate(1171.27,1104.6) scale(0.9850,1)" font-size="35.6">2.5</text>
<text transform="translate(1352.30,1104.6) scale(0.9850,1)" font-size="35.6">3.0</text>
<text y="1178.00" font-size="45.50"><tspan x="653.21" textLength="112.92" lengthAdjust="spacingAndGlyphs">Crack</tspan> <tspan x="778.30" textLength="114.05" lengthAdjust="spacingAndGlyphs">width</tspan> <tspan x="902.56" textLength="105.73" lengthAdjust="spacingAndGlyphs">(mm)</tspan></text>
<text y="0.00" font-size="45.50" transform="translate(64.2,637.4) rotate(-90)"><tspan x="-1.37" textLength="104.16" lengthAdjust="spacingAndGlyphs">Force</tspan> <tspan x="114.22" textLength="87.07" lengthAdjust="spacingAndGlyphs">(kN)</tspan></text>
<text y="95.00" font-size="44.00"><tspan x="217.77" textLength="93.14" lengthAdjust="spacingAndGlyphs">Steel</tspan> <tspan x="321.89" textLength="88.47" lengthAdjust="spacingAndGlyphs">fiber</tspan> <tspan x="421.89" textLength="172.76" lengthAdjust="spacingAndGlyphs">contents:</tspan> <tspan x="604.40" textLength="90.34" lengthAdjust="spacingAndGlyphs">1.5%</tspan></text>
</svg></body></html>
